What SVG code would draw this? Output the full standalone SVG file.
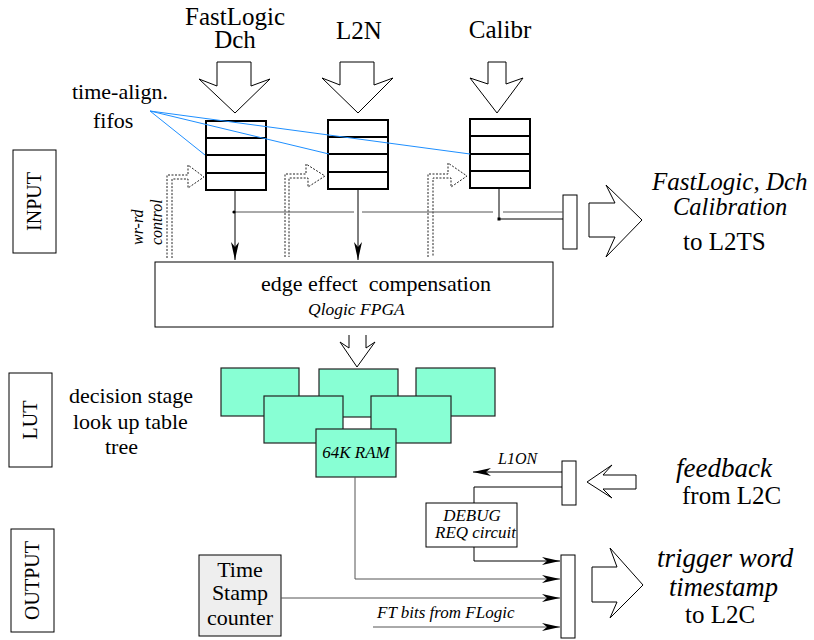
<svg xmlns="http://www.w3.org/2000/svg" width="814" height="640" viewBox="0 0 814 640" font-family="'Liberation Serif', serif">
<defs>
<style>
text{font-family:"Liberation Serif","Times New Roman",serif;fill:#000}
.big{font-size:25px}
.mid{font-size:22px}
.it{font-style:italic}
.sm{font-size:17px;font-style:italic}
.fifo{fill:#fff;stroke:#000;stroke-width:2}
.row{stroke:#000;stroke-width:2}
.hollow{fill:#fff;stroke:#000;stroke-width:1}
.dot{fill:none;stroke:#222;stroke-width:1;stroke-dasharray:2,1.5}
.blue{stroke:#1e8fff;stroke-width:1;fill:none}
.ln{stroke:#000;stroke-width:1;fill:none}
.gl{stroke:#555;stroke-width:1;fill:none}
.lut{fill:#88ffd4;stroke:#222;stroke-width:1.2}
.box{fill:#fff;stroke:#000;stroke-width:1}
</style>
<marker id="ah" viewBox="0 0 18 8" refX="18" refY="4" markerWidth="18" markerHeight="8" markerUnits="userSpaceOnUse" orient="auto">
<path d="M0,0 L18,4 L0,8 L5,4 z" fill="#000"/>
</marker>
</defs>

<!-- section labels -->
<g id="label-input"><rect class="box" x="13" y="150" width="43" height="103"/><text transform="translate(41,201.5) rotate(-90)" text-anchor="middle" style="font-size:20px">INPUT</text></g>
<g id="label-lut"><rect class="box" x="9" y="373" width="43" height="94"/><text transform="translate(37,420) rotate(-90)" text-anchor="middle" style="font-size:20px">LUT</text></g>
<g id="label-output"><rect class="box" x="11" y="529" width="43" height="103"/><text transform="translate(39,580.5) rotate(-90)" text-anchor="middle" style="font-size:20px">OUTPUT</text></g>

<!-- input sources -->
<g id="src-fastlogic">
<text class="big" x="235" y="25" text-anchor="middle">FastLogic</text>
<text class="big" x="235" y="48" text-anchor="middle">Dch</text>
<polygon class="hollow" points="217,62 251,62 251,86 270,79 235,113 199,79 217,86"/>
</g>
<g id="src-l2n">
<text class="big" x="359" y="39" text-anchor="middle">L2N</text>
<polygon class="hollow" points="340,62 374,62 374,85 393,78 358,113 322,78 340,85"/>
</g>
<g id="src-calibr">
<text class="big" x="500" y="38" text-anchor="middle">Calibr</text>
<polygon class="hollow" points="488,62 506,62 506,84 523,78 497,113 470,78 488,84"/>
</g>

<g id="fifo-label">
<text class="mid" x="72" y="99">time-align.</text>
<text class="mid" x="93" y="128">fifos</text>
</g>

<!-- fifos -->
<g id="fifo-fastlogic">
<rect class="fifo" x="206" y="121" width="60" height="69"/>
<line class="row" x1="206" y1="138" x2="266" y2="138"/>
<line class="row" x1="206" y1="155" x2="266" y2="155"/>
<line class="row" x1="206" y1="173" x2="266" y2="173"/>
</g>
<g id="fifo-l2n">
<rect class="fifo" x="328" y="120" width="60" height="69"/>
<line class="row" x1="328" y1="137" x2="388" y2="137"/>
<line class="row" x1="328" y1="154" x2="388" y2="154"/>
<line class="row" x1="328" y1="172" x2="388" y2="172"/>
</g>
<g id="fifo-calibr">
<rect class="fifo" x="470" y="119" width="60" height="69"/>
<line class="row" x1="470" y1="136" x2="530" y2="136"/>
<line class="row" x1="470" y1="154" x2="530" y2="154"/>
<line class="row" x1="470" y1="171" x2="530" y2="171"/>
</g>

<g id="wr-rd-label">
<text class="it" transform="translate(143,245) rotate(-90)" style="font-size:16px">wr-rd</text>
<text class="it" transform="translate(162,245) rotate(-90)" style="font-size:16px">control</text>
</g>

<!-- edge effect -->
<g id="edge">
<rect class="box" x="155" y="262" width="398" height="65"/>
<text class="mid" x="261" y="291" xml:space="preserve">edge effect  compensation</text>
<text class="it" x="308" y="315" style="font-size:17.5px">Qlogic FPGA</text>
</g>

<!-- LUT tree -->
<g id="lut-text">
<text class="mid" x="69" y="403">decision stage</text>
<text class="mid" x="73" y="429">look up table</text>
<text class="mid" x="105" y="454">tree</text>
</g>
<g id="lut-a"><rect class="lut" x="221" y="368" width="78" height="48"/></g>
<g id="lut-b"><rect class="lut" x="319" y="369" width="79" height="48"/></g>
<g id="lut-c"><rect class="lut" x="416" y="368" width="79" height="48"/></g>
<g id="lut-d"><rect class="lut" x="264" y="396" width="79" height="47"/></g>
<g id="lut-e"><rect class="lut" x="371" y="396" width="80" height="47"/></g>
<g id="ram"><rect class="lut" x="316" y="429" width="80" height="48"/><text class="sm" x="356" y="458" text-anchor="middle">64K RAM</text></g>

<!-- right side -->
<g id="mux-l2ts"><rect class="box" x="563" y="195" width="14" height="54"/></g>
<g id="out-l2ts">
<polygon class="hollow" points="589,203 615,203 606,185 642,220 606,257 615,237 589,237"/>
<text class="it" x="652" y="190" style="font-size:25px">FastLogic, Dch</text>
<text class="it" x="673" y="215" style="font-size:24.5px">Calibration</text>
<text class="big" x="683" y="250">to L2TS</text>
</g>

<g id="mux-feedback"><rect class="box" x="562" y="461" width="14" height="44"/></g>
<g id="in-feedback">
<polygon class="hollow" points="636,475 603,475 612,465 587,482 612,498 603,489 636,489"/>
<text class="it" x="676" y="477" style="font-size:27px">feedback</text>
<text class="big" x="682" y="504">from L2C</text>
</g>

<g id="debug">
<rect class="box" x="426" y="503" width="91" height="44"/>
<text class="sm" x="472" y="521" text-anchor="middle">DEBUG</text>
<text class="sm" x="435" y="538">REQ circuit</text>
</g>

<g id="timestamp">
<rect x="199" y="555" width="82" height="81" fill="#eeeeee" stroke="#000" stroke-width="1"/>
<text class="mid" x="240" y="577" text-anchor="middle">Time</text>
<text class="mid" x="240" y="600" text-anchor="middle">Stamp</text>
<text class="mid" x="240" y="625" text-anchor="middle">counter</text>
</g>

<g id="mux-out"><rect class="box" x="561" y="555" width="14" height="83"/></g>
<g id="out-l2c">
<polygon class="hollow" points="592,567 617,567 610,548 643,585 610,618 617,602 592,602"/>
<text class="it" x="657" y="567" style="font-size:27px">trigger word</text>
<text class="it" x="669" y="596" style="font-size:26.5px">timestamp</text>
<text class="big" x="685" y="623">to L2C</text>
</g>

<!-- connectors -->
<g id="connectors">
<line class="blue" x1="150" y1="111" x2="205" y2="155"/>
<line class="blue" x1="150" y1="111" x2="329" y2="154"/>
<line class="blue" x1="150" y1="111" x2="470" y2="154"/>

<polyline class="dot" points="167,258 167,175 188,175 188,165 204,177 188,188 188,179 172,179 172,258"/>
<polyline class="dot" points="285,257 285,174 306,174 306,164 325,176 308,187 308,178 289,178 289,257"/>
<polyline class="dot" points="428,257 428,174 448,174 448,163 467,176 451,187 451,178 433,178 433,257"/>

<line class="ln" x1="235" y1="190" x2="235" y2="260" marker-end="url(#ah)"/>
<line class="ln" x1="358" y1="189" x2="358" y2="260" marker-end="url(#ah)"/>
<path class="gl" d="M234,212 H354 M362,212 H493 M503,212 H563"/>
<circle cx="234" cy="212" r="1.6" fill="#000"/>
<path class="ln" d="M499,188 V219 H563"/>
<rect x="497.5" y="217.5" width="3" height="3" fill="#000"/>

<path class="hollow" d="M349,335 L349,348 L340,342 L357,367 L375,342 L366,348 L366,335" fill="none"/>

<line class="ln" x1="562" y1="472" x2="473" y2="472" marker-end="url(#ah)"/>
<text class="it" x="498" y="464" style="font-size:16px">L1ON</text>
<path class="ln" d="M562,487 H474 V503"/>
<path class="ln" d="M474,547 V561 H560" marker-end="url(#ah)"/>
<path class="gl" d="M355,477 V579 H560" marker-end="url(#ah)"/>
<line class="gl" x1="281" y1="598" x2="560" y2="598" marker-end="url(#ah)"/>
<line class="gl" x1="373" y1="627" x2="560" y2="627" marker-end="url(#ah)"/>
<text class="sm" x="377" y="618">FT bits from FLogic</text>
</g>
</svg>
